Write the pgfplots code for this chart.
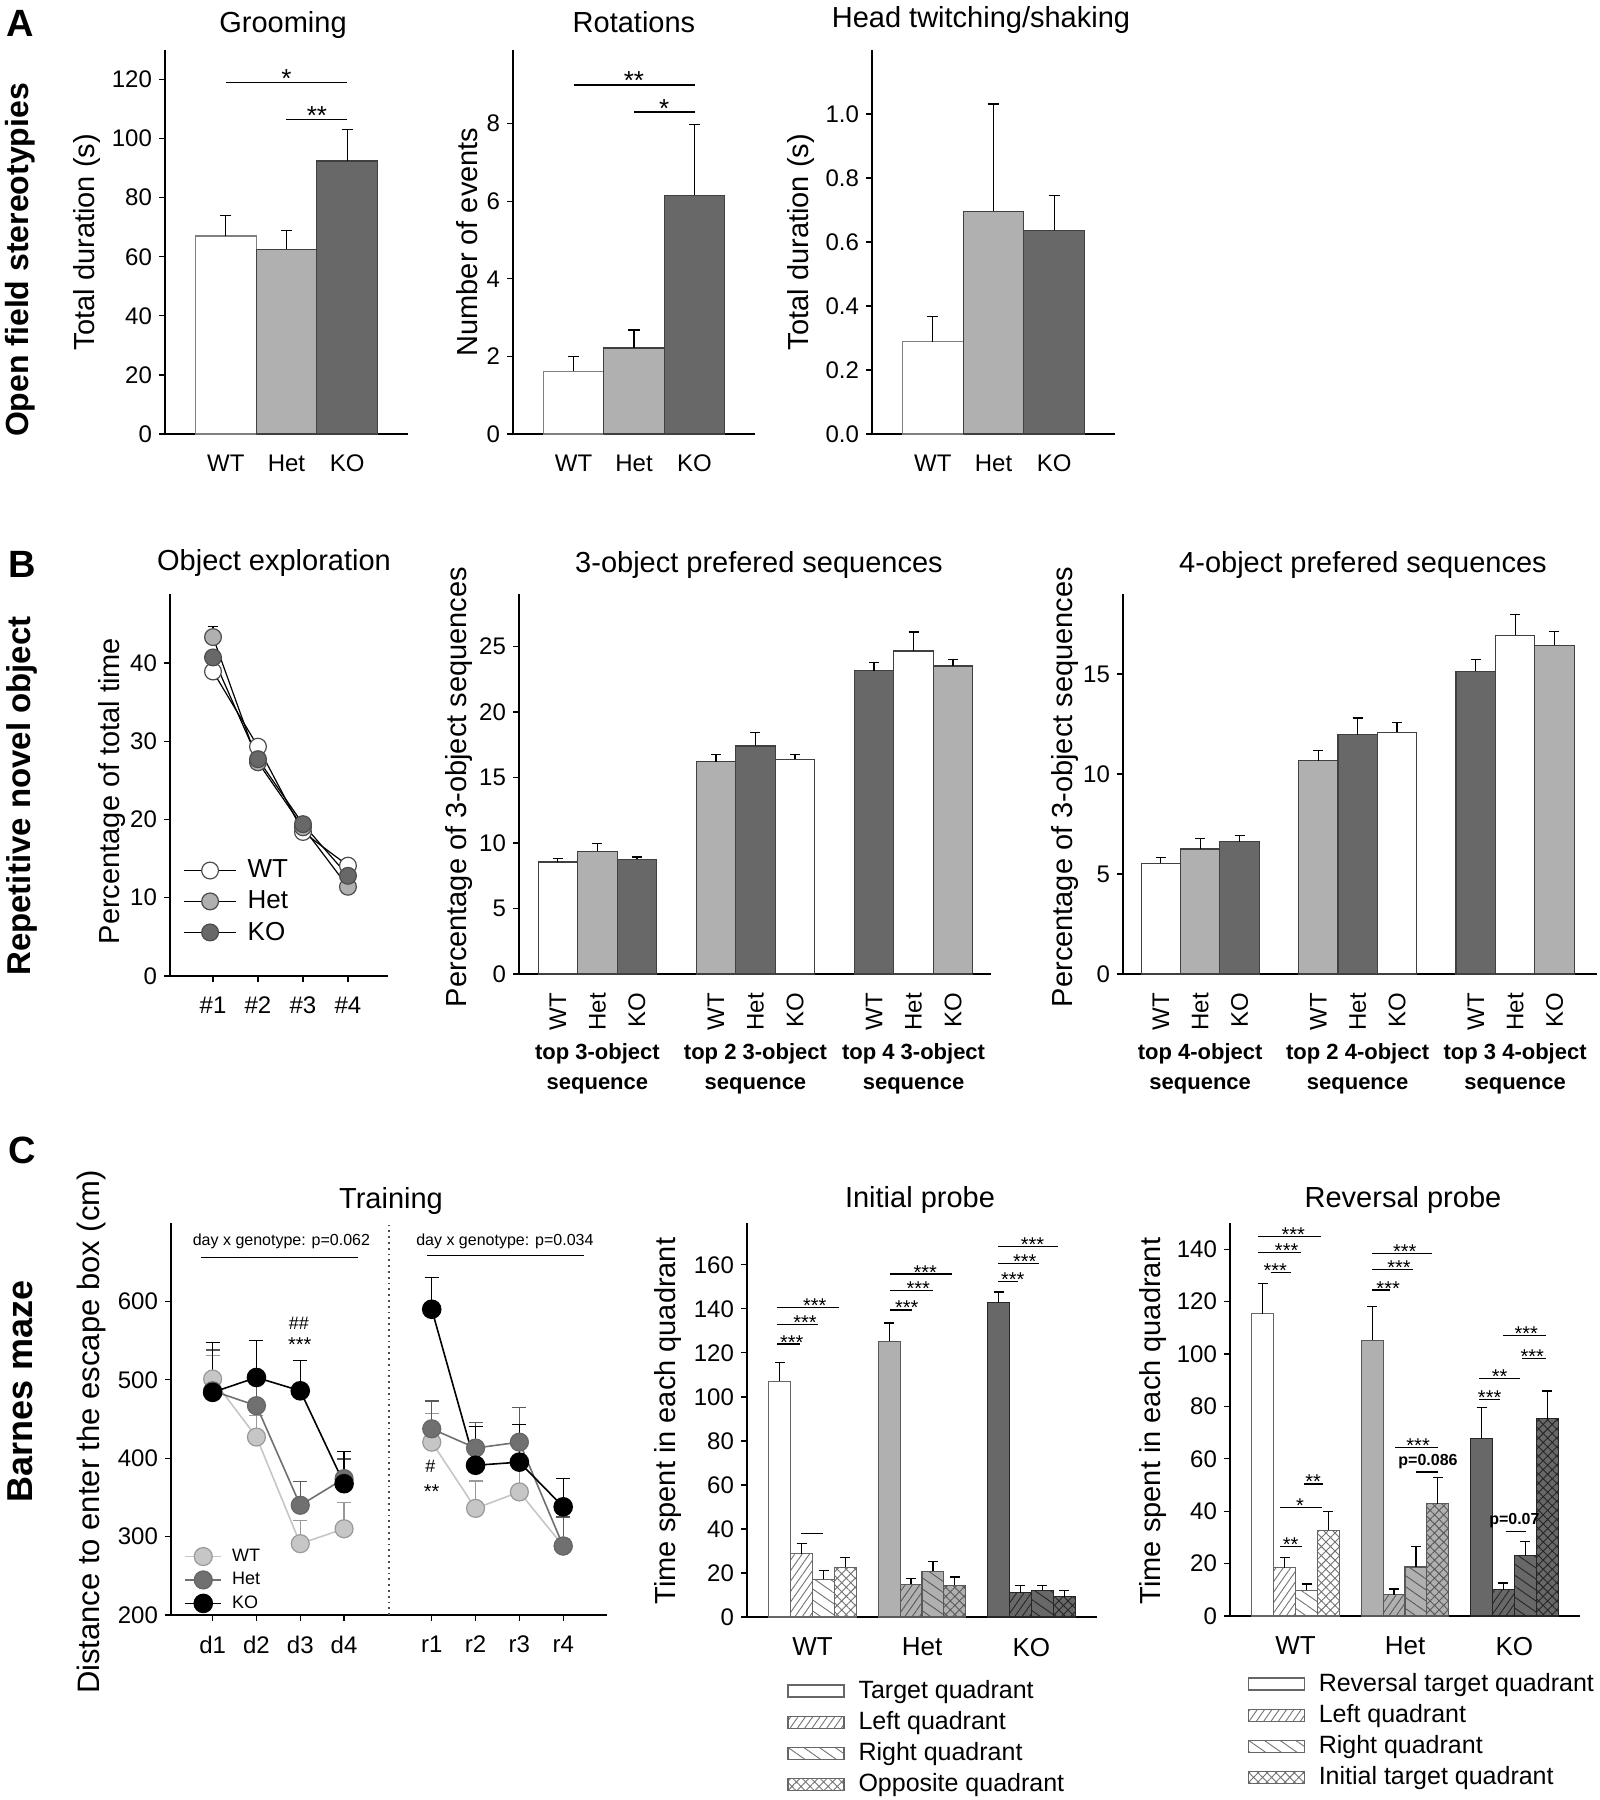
\documentclass[border=0pt]{standalone}
\usepackage{pgfplots}
\pgfplotsset{compat=1.18}
\usepackage{fontspec}
\setmainfont{Liberation Sans}
\usetikzlibrary{patterns.meta}
\newcommand{\fs}[1]{\fontsize{#1}{#1}\selectfont}
\definecolor{lg}{HTML}{B0B0B0}
\definecolor{dg}{HTML}{686868}
\definecolor{twt}{HTML}{C6C6C6}
\definecolor{thet}{HTML}{707070}
\newcommand{\sigfs}{13}
\newcommand{\sigl}[5]{%
  \draw[line width=0.6pt] (axis cs:#1,#3) -- (axis cs:#2,#3);
  \node[font=\fs{\sigfs}, anchor=base, inner sep=0pt, yshift=-2.5pt] at (axis cs:#4,#3) {#5};}

\pgfplotsset{
  base/.style={
    scale only axis, anchor=south west, clip=false,
    axis x line*=bottom, axis y line*=left,
    axis line style={-, line width=0.8pt, black},
    tick style={black, line width=0.6pt},
    tick align=outside, major tick length=3pt,
    ticklabel style={font=\fs{12}},
    /pgf/number format/assume math mode=true,
    ymin=0,
  },
  nox/.style={major x tick style=transparent},
  ebc/.style 2 args={
    error bars/y dir=plus, error bars/y explicit,
    error bars/error bar style={line width=0.6pt, #2},
    error bars/error mark options={rotate=90, mark size=#1, line width=0.6pt, #2}},
  eb/.style={ebc={#1}{black}},
  eb/.default=2.8pt,
  bA/.style={ybar, bar width=1, bar shift=0pt, line width=0.6pt, fill=#1, draw=black!75},
  bB/.style={ybar, bar width=0.25, bar shift=0pt, line width=0.6pt, fill=#1, draw=black!75},
  qb/.style={ybar, bar width=0.2, bar shift=0pt, line width=0.6pt,
    legend image code/.code={\draw[##1] (0pt,-3pt) rectangle (28pt,3pt);}},
  lq/.style={postaction={pattern={Lines[angle=55,distance=3pt,line width=0.45pt]}, pattern color=#1}},
  rq/.style={postaction={pattern={Lines[angle=-35,distance=4.5pt,line width=0.45pt]}, pattern color=#1}},
  oq/.style={postaction={pattern={Hatch[angle=45,distance=3.2pt,line width=0.45pt]}, pattern color=#1}},
}

\begin{document}
\begin{tikzpicture}
\useasboundingbox (0,0) rectangle (800pt,-900pt);
% ---------- panel letters and row labels
\node[font=\fs{19}\bfseries] at (10pt,-11.5pt) {A};
\node[font=\fs{16}\bfseries, rotate=90] at (10pt,-130pt) {Open field stereotypies};
\node[font=\fs{19}\bfseries] at (11pt,-282pt) {B};
\node[font=\fs{16.5}\bfseries, rotate=90] at (11pt,-398pt) {Repetitive novel object};
\node[font=\fs{19}\bfseries] at (11pt,-575pt) {C};
\node[font=\fs{18}\bfseries, rotate=90] at (10pt,-695.5pt) {Barnes maze};

% ---------- titles
\node[font=\fs{14.5}, anchor=base] at (141.5pt,-16pt) {Grooming};
\node[font=\fs{14.5}, anchor=base] at (317pt,-16pt) {Rotations};
\node[font=\fs{14.5}, anchor=base] at (490.5pt,-13.5pt) {Head twitching/shaking};
\node[font=\fs{14.5}, anchor=base] at (137pt,-285pt) {Object exploration};
\node[font=\fs{14.5}, anchor=base] at (379.5pt,-286pt) {3-object prefered sequences};
\node[font=\fs{14.5}, anchor=base] at (681.5pt,-286pt) {4-object prefered sequences};
\node[font=\fs{14.5}, anchor=base] at (195.5pt,-604pt) {Training};
\node[font=\fs{14.5}, anchor=base] at (460pt,-603.5pt) {Initial probe};
\node[font=\fs{14.5}, anchor=base] at (701.5pt,-603.5pt) {Reversal probe};

% ---------- y labels
\node[font=\fs{14.5}, rotate=90] at (43.5pt,-121pt) {Total duration (s)};
\node[font=\fs{14.5}, rotate=90] at (233.5pt,-121pt) {Number of events};
\node[font=\fs{14.5}, rotate=90] at (400.5pt,-121pt) {Total duration (s)};
\node[font=\fs{14.5}, rotate=90] at (56pt,-395.5pt) {Percentage of total time};
\node[font=\fs{14.5}, rotate=90] at (229.5pt,-393.5pt) {Percentage of 3-object sequences};
\node[font=\fs{14.5}, rotate=90] at (532.5pt,-393.5pt) {Percentage of 3-object sequences};
\node[font=\fs{15.5}, rotate=90] at (45.5pt,-716pt) {Distance to enter the escape box (cm)};
\node[font=\fs{14.5}, rotate=90] at (334pt,-710.5pt) {Time spent in each quadrant};
\node[font=\fs{14.5}, rotate=90] at (576.5pt,-710.5pt) {Time spent in each quadrant};

% ================= PANEL A
\begin{axis}[base, nox, at={(82.5pt,-217pt)}, width=121.5pt, height=192pt,
  xmin=0, xmax=4, ymax=130, ytick={0,20,...,120},
  xtick={1,2,3}, xticklabels={WT,Het,KO}, xticklabel shift=4pt]
\addplot[bA=white, draw=black!50, eb] coordinates {(1,67) +- (0,7)};
\addplot[bA=lg, eb] coordinates {(2,62.5) +- (0,6.5)};
\addplot[bA=dg, eb] coordinates {(3,92.4) +- (0,10.7)};
\sigl{1}{3}{119}{2}{*}
\sigl{2}{3}{106.5}{2.5}{**}
\end{axis}

\begin{axis}[base, nox, at={(256.5pt,-217pt)}, width=121pt, height=192pt,
  xmin=0, xmax=4, ymax=9.9, ytick={0,2,4,6,8},
  xtick={1,2,3}, xticklabels={WT,Het,KO}, xticklabel shift=4pt]
\addplot[bA=white, draw=black!50, eb] coordinates {(1,1.62) +- (0,0.38)};
\addplot[bA=lg, eb] coordinates {(2,2.22) +- (0,0.46)};
\addplot[bA=dg, eb] coordinates {(3,6.15) +- (0,1.83)};
\sigl{1}{3}{9.0}{2}{**}
\sigl{2}{3}{8.3}{2.5}{*}
\end{axis}

\begin{axis}[base, nox, at={(436pt,-217pt)}, width=121.5pt, height=192pt,
  xmin=0, xmax=4, ymax=1.2, ytick={0,0.2,0.4,0.6,0.8,1.0},
  yticklabel style={/pgf/number format/.cd, fixed, fixed zerofill, precision=1},
  xtick={1,2,3}, xticklabels={WT,Het,KO}, xticklabel shift=4pt]
\addplot[bA=white, draw=black!50, eb] coordinates {(1,0.289) +- (0,0.077)};
\addplot[bA=lg, eb] coordinates {(2,0.696) +- (0,0.335)};
\addplot[bA=dg, eb] coordinates {(3,0.636) +- (0,0.109)};
\end{axis}

% ================= PANEL B
\begin{axis}[base, at={(85pt,-488pt)}, width=109pt, height=191pt,
  xmin=0.044, xmax=4.89, ymax=48.8, ytick={0,10,20,30,40},
  xtick={1,2,3,4}, xticklabels={\#1,\#2,\#3,\#4}, xticklabel shift=4pt,
  legend style={draw=none, fill=none, at={(0.06,0.315)}, anchor=north west,
    font=\fs{13}, row sep=1pt, column sep=3.5pt, inner sep=0pt},
  legend cell align=left,
  legend image code/.code={\draw[mark repeat=2,mark phase=2,#1] plot coordinates {(0pt,0pt) (13pt,0pt) (26pt,0pt)};}]
\addplot[black, line width=0.6pt, mark=*, mark size=4.2pt, mark options={fill=white, draw=black!70}]
  coordinates {(1,38.9) (2,29.3) (3,18.4) (4,14.1)};
\addlegendentry{WT}
\addplot[black, line width=0.6pt, mark=*, mark size=4.2pt, mark options={fill=lg, draw=black!70}, eb=2.5pt]
  coordinates {(1,43.3) +- (0,1.4) (2,27.3) +- (0,0.5) (3,19.0) +- (0,0.5) (4,11.4) +- (0,0.4)};
\addlegendentry{Het}
\addplot[black, line width=0.6pt, mark=*, mark size=4.2pt, mark options={fill=dg, draw=black!70}]
  coordinates {(1,40.7) (2,27.7) (3,19.4) (4,12.8)};
\addlegendentry{KO}
\end{axis}

\begin{axis}[base, nox, at={(259.5pt,-487pt)}, width=236pt, height=190pt,
  xmin=0.504, xmax=3.49, ymax=29, ytick={0,5,...,25},
  xtick={0.75,1,1.25,1.75,2,2.25,2.75,3,3.25},
  xticklabels={WT,Het,KO,WT,Het,KO,WT,Het,KO},
  xticklabel style={rotate=90, anchor=east}, xticklabel shift=3pt]
\addplot[bB=white, eb=2.5pt] coordinates {(0.75,8.55) +- (0,0.27) (2.25,16.4) +- (0,0.35) (3,24.65) +- (0,1.45)};
\addplot[bB=lg, eb=2.5pt] coordinates {(1,9.37) +- (0,0.6) (1.75,16.2) +- (0,0.55) (3.25,23.5) +- (0,0.5)};
\addplot[bB=dg, eb=2.5pt] coordinates {(1.25,8.75) +- (0,0.18) (2,17.4) +- (0,1.05) (2.75,23.15) +- (0,0.65)};
\node[font=\fs{11}\bfseries] at (axis cs:1,0) [yshift=-40pt] {top 3-object};
\node[font=\fs{11}\bfseries] at (axis cs:1,0) [yshift=-56pt] {sequence};
\node[font=\fs{11}\bfseries] at (axis cs:2,0) [yshift=-40pt] {top 2 3-object};
\node[font=\fs{11}\bfseries] at (axis cs:2,0) [yshift=-56pt] {sequence};
\node[font=\fs{11}\bfseries] at (axis cs:3,0) [yshift=-40pt] {top 4 3-object};
\node[font=\fs{11}\bfseries] at (axis cs:3,0) [yshift=-56pt] {sequence};
\end{axis}

\begin{axis}[base, nox, at={(561.5pt,-487pt)}, width=237pt, height=190pt,
  xmin=0.51, xmax=3.52, ymax=19, ytick={0,5,10,15},
  xtick={0.75,1,1.25,1.75,2,2.25,2.75,3,3.25},
  xticklabels={WT,Het,KO,WT,Het,KO,WT,Het,KO},
  xticklabel style={rotate=90, anchor=east}, xticklabel shift=3pt]
\addplot[bB=white, eb=2.5pt] coordinates {(0.75,5.54) +- (0,0.30) (2.25,12.09) +- (0,0.50) (3,16.93) +- (0,1.05)};
\addplot[bB=lg, eb=2.5pt] coordinates {(1,6.25) +- (0,0.54) (1.75,10.66) +- (0,0.50) (3.25,16.43) +- (0,0.71)};
\addplot[bB=dg, eb=2.5pt] coordinates {(1.25,6.61) +- (0,0.30) (2,11.96) +- (0,0.84) (2.75,15.14) +- (0,0.57)};
\node[font=\fs{11}\bfseries] at (axis cs:1,0) [yshift=-40pt] {top 4-object};
\node[font=\fs{11}\bfseries] at (axis cs:1,0) [yshift=-56pt] {sequence};
\node[font=\fs{11}\bfseries] at (axis cs:2,0) [yshift=-40pt] {top 2 4-object};
\node[font=\fs{11}\bfseries] at (axis cs:2,0) [yshift=-56pt] {sequence};
\node[font=\fs{11}\bfseries] at (axis cs:3,0) [yshift=-40pt] {top 3 4-object};
\node[font=\fs{11}\bfseries] at (axis cs:3,0) [yshift=-56pt] {sequence};
\end{axis}

% ================= PANEL C
\renewcommand{\sigfs}{10}
\begin{axis}[base, at={(85.5pt,-807.5pt)}, width=218pt, height=196pt,
  xmin=0.05, xmax=10, ymin=200, ymax=700, ytick={200,300,...,600},
  xtick={1,2,3,4,6,7,8,9}, xticklabels={d1,d2,d3,d4,r1,r2,r3,r4}, xticklabel shift=4pt,
  legend style={draw=none, fill=none, at={(0.03,0.18)}, anchor=north west,
    font=\fs{9}, row sep=0pt, column sep=3pt, inner sep=0pt},
  legend cell align=left,
  legend image code/.code={\draw[mark repeat=2,mark phase=2,#1] plot coordinates {(0pt,0pt) (9pt,0pt) (18pt,0pt)};}]
\draw[dotted, line width=0.9pt, black!70] (axis cs:5.03,200) -- (axis cs:5.03,700);
\addplot[twt, line width=0.8pt, mark=*, mark size=4.5pt, mark options={fill=twt, draw=black!40, line width=0.6pt}, ebc={3.5pt}{black!40}]
  coordinates {(1,501) +- (0,30) (2,427) +- (0,28) (3,291) +- (0,30) (4,310) +- (0,34)};
\addlegendentry{WT}
\addplot[twt, line width=0.8pt, mark=*, mark size=4.5pt, mark options={fill=twt, draw=black!40, line width=0.6pt}, ebc={3.5pt}{black!40}, forget plot]
  coordinates {(6,420.5) +- (0,36.5) (7,336) +- (0,35) (8,357) +- (0,30) (9,288) +- (0,10)};
\addplot[thet, line width=0.8pt, mark=*, mark size=4.5pt, mark options={fill=thet, draw=black!60, line width=0.6pt}, ebc={3.5pt}{black!65}]
  coordinates {(1,486) +- (0,52) (2,467) +- (0,30) (3,340) +- (0,30) (4,374) +- (0,25)};
\addlegendentry{Het}
\addplot[thet, line width=0.8pt, mark=*, mark size=4.5pt, mark options={fill=thet, draw=black!60, line width=0.6pt}, ebc={3.5pt}{black!65}, forget plot]
  coordinates {(6,437.5) +- (0,35.5) (7,413) +- (0,33) (8,420.5) +- (0,44.5) (9,288) +- (0,37)};
\addplot[black, line width=0.8pt, mark=*, mark size=4.5pt, mark options={fill=black, draw=black}, ebc={3.5pt}{black}]
  coordinates {(1,484) +- (0,64) (2,503) +- (0,47) (3,486) +- (0,39) (4,367.5) +- (0,41.5)};
\addlegendentry{KO}
\addplot[black, line width=0.8pt, mark=*, mark size=4.5pt, mark options={fill=black, draw=black}, ebc={3.5pt}{black}, forget plot]
  coordinates {(6,590) +- (0,40) (7,391) +- (0,49) (8,395) +- (0,48) (9,338) +- (0,36)};
\node[font=\fs{8}] at (axis cs:2.57,677) {day x genotype: p=0.062};
\draw[line width=0.6pt] (axis cs:0.73,656) -- (axis cs:4.31,656);
\node[font=\fs{8}] at (axis cs:7.67,677) {day x genotype: p=0.034};
\draw[line width=0.6pt] (axis cs:5.9,659) -- (axis cs:9.48,659);
\node[font=\fs{9}] at (axis cs:2.97,572) {\#\#};
\node[font=\fs{10}] at (axis cs:2.99,545) {***};
\node[font=\fs{9}] at (axis cs:5.97,389.6) {\#};
\node[font=\fs{10}] at (axis cs:6.0,358) {**};
\end{axis}

% Initial probe
\begin{axis}[base, nox, at={(373.5pt,-808.5pt)}, width=175pt, height=197pt,
  xmin=0.4, xmax=3.6, ymax=179, ytick={0,20,...,160},
  xtick={1,2,3}, xticklabels={WT,Het,KO}, xticklabel style={font=\fs{13}}, xticklabel shift=4pt,
  legend style={draw=none, fill=none, at={(0.114,-0.15)}, anchor=north west,
    font=\fs{12.5}, row sep=1pt, column sep=5pt, inner sep=0pt},
  legend cell align=left]
\addplot[qb, fill=white, draw=black!60, eb=2.5pt] coordinates {(0.7,107.1) +- (0,8.5)};
\addlegendentry{Target quadrant}
\addplot[qb, fill=white, draw=black!60, lq=black!55, eb=2.5pt] coordinates {(0.9,28.8) +- (0,4.6)};
\addlegendentry{Left quadrant}
\addplot[qb, fill=white, draw=black!60, rq=black!55, eb=2.5pt] coordinates {(1.1,17.1) +- (0,3.9)};
\addlegendentry{Right quadrant}
\addplot[qb, fill=white, draw=black!60, oq=black!55, eb=2.5pt] coordinates {(1.3,22.6) +- (0,4.3)};
\addlegendentry{Opposite quadrant}
\addplot[qb, fill=lg, draw=black!65, forget plot, eb=2.5pt] coordinates {(1.7,125.2) +- (0,8.4)};
\addplot[qb, fill=lg, draw=black!65, lq=black!65, forget plot, eb=2.5pt] coordinates {(1.9,14.8) +- (0,2.8)};
\addplot[qb, fill=lg, draw=black!65, rq=black!65, forget plot, eb=2.5pt] coordinates {(2.1,20.8) +- (0,4.6)};
\addplot[qb, fill=lg, draw=black!65, oq=black!65, forget plot, eb=2.5pt] coordinates {(2.3,14.5) +- (0,3.7)};
\addplot[qb, fill=dg, draw=black!85, forget plot, eb=2.5pt] coordinates {(2.7,142.9) +- (0,4.8)};
\addplot[qb, fill=dg, draw=black!85, lq=black!85, forget plot, eb=2.5pt] coordinates {(2.9,11.1) +- (0,3.2)};
\addplot[qb, fill=dg, draw=black!85, rq=black!85, forget plot, eb=2.5pt] coordinates {(3.1,12.1) +- (0,2.4)};
\addplot[qb, fill=dg, draw=black!85, oq=black!85, forget plot, eb=2.5pt] coordinates {(3.3,9.3) +- (0,2.8)};
\sigl{0.67}{0.88}{124}{0.81}{***}
\sigl{0.67}{1.05}{133}{0.93}{***}
\sigl{0.67}{1.245}{140.6}{1.02}{***}
\draw[line width=0.6pt] (axis cs:0.895,38) -- (axis cs:1.093,38);
\sigl{1.707}{1.905}{139.5}{1.86}{***}
\sigl{1.707}{2.10}{148.4}{1.965}{***}
\sigl{1.707}{2.27}{155.8}{2.03}{***}
\sigl{2.695}{2.877}{152.5}{2.83}{***}
\sigl{2.695}{3.069}{160.5}{2.94}{***}
\sigl{2.695}{3.242}{168.3}{3.01}{***}
\end{axis}

% Reversal probe
\begin{axis}[base, nox, at={(615pt,-808pt)}, width=175pt, height=196.5pt,
  xmin=0.4, xmax=3.6, ymax=150, ytick={0,20,...,140},
  xtick={1,2,3}, xticklabels={WT,Het,KO}, xticklabel style={font=\fs{13}}, xticklabel shift=4pt,
  legend style={draw=none, fill=none, at={(0.049,-0.135)}, anchor=north west,
    font=\fs{12.5}, row sep=1pt, column sep=5pt, inner sep=0pt},
  legend cell align=left]
\addplot[qb, fill=white, draw=black!60, eb=2.5pt] coordinates {(0.7,115.4) +- (0,11.4)};
\addlegendentry{Reversal target quadrant}
\addplot[qb, fill=white, draw=black!60, lq=black!55, eb=2.5pt] coordinates {(0.9,18.4) +- (0,3.9)};
\addlegendentry{Left quadrant}
\addplot[qb, fill=white, draw=black!60, rq=black!55, eb=2.5pt] coordinates {(1.1,9.8) +- (0,2.4)};
\addlegendentry{Right quadrant}
\addplot[qb, fill=white, draw=black!60, oq=black!55, eb=2.5pt] coordinates {(1.3,32.7) +- (0,7.2)};
\addlegendentry{Initial target quadrant}
\addplot[qb, fill=lg, draw=black!65, forget plot, eb=2.5pt] coordinates {(1.7,105.2) +- (0,13.0)};
\addplot[qb, fill=lg, draw=black!65, lq=black!65, forget plot, eb=2.5pt] coordinates {(1.9,8.1) +- (0,2.2)};
\addplot[qb, fill=lg, draw=black!65, rq=black!65, forget plot, eb=2.5pt] coordinates {(2.1,18.7) +- (0,7.8)};
\addplot[qb, fill=lg, draw=black!65, oq=black!65, forget plot, eb=2.5pt] coordinates {(2.3,42.9) +- (0,10.1)};
\addplot[qb, fill=dg, draw=black!85, forget plot, eb=2.5pt] coordinates {(2.7,67.8) +- (0,11.9)};
\addplot[qb, fill=dg, draw=black!85, lq=black!85, forget plot, eb=2.5pt] coordinates {(2.9,10.1) +- (0,2.5)};
\addplot[qb, fill=dg, draw=black!85, rq=black!85, forget plot, eb=2.5pt] coordinates {(3.1,23.1) +- (0,5.4)};
\addplot[qb, fill=dg, draw=black!85, oq=black!85, forget plot, eb=2.5pt] coordinates {(3.3,75.3) +- (0,10.6)};
\sigl{0.659}{1.228}{145}{0.978}{***}
\sigl{0.659}{1.045}{138.8}{0.918}{***}
\sigl{0.771}{0.954}{131}{0.814}{***}
\sigl{1.076}{1.246}{50.4}{1.16}{**}
\sigl{0.857}{1.237}{41.5}{1.04}{*}
\sigl{0.857}{1.054}{26.5}{0.954}{**}
\sigl{1.694}{2.251}{138.4}{1.998}{***}
\sigl{1.694}{2.074}{132.2}{1.946}{***}
\sigl{1.694}{1.861}{124.4}{1.846}{***}
\sigl{1.907}{2.303}{64.4}{2.12}{***}
\draw[line width=0.6pt] (axis cs:2.105,55) -- (axis cs:2.303,55);
\node[font=\fs{8}\bfseries] at (axis cs:2.21,58.9) {p=0.086};
\sigl{2.677}{2.866}{82.6}{2.774}{***}
\sigl{2.677}{3.054}{90.6}{2.866}{**}
\sigl{2.896}{3.292}{107}{3.109}{***}
\sigl{3.073}{3.292}{98.2}{3.164}{***}
\draw[line width=0.6pt] (axis cs:2.92,32.4) -- (axis cs:3.109,32.4);
\node[font=\fs{8}\bfseries] at (axis cs:3.0,36.3) {p=0.07};
\end{axis}
\end{tikzpicture}
\end{document}
